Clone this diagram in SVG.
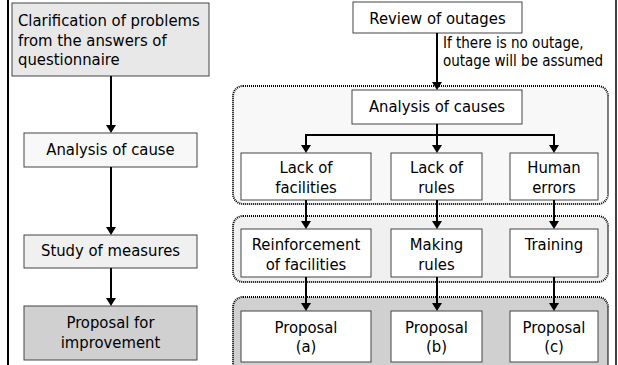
<svg xmlns="http://www.w3.org/2000/svg" width="618" height="365" viewBox="0 0 618 365">
<style>
text{font-family:"DejaVu Sans Condensed","DejaVu Sans",sans-serif;font-stretch:condensed;font-size:16.5px;fill:#000}
.c{text-anchor:middle}
.note{font-size:15px}
.box{stroke:#444;stroke-width:1}
.grp{stroke:#000;stroke-width:2;stroke-dasharray:1 1}
.ar{stroke:#000;stroke-width:2;fill:none;marker-end:url(#ah)}
.ln{stroke:#000;stroke-width:2;fill:none}
</style>
<defs>
<marker id="ah" markerUnits="userSpaceOnUse" markerWidth="9" markerHeight="10" refX="2" refY="5" orient="auto">
<path d="M0,0 L8,5 L0,10 z" fill="#000"/>
</marker>
</defs>
<rect width="618" height="365" fill="#fff"/>
<line x1="8" y1="0" x2="8" y2="365" stroke="#000" stroke-width="2"/>
<line x1="616" y1="0" x2="616" y2="365" stroke="#000" stroke-width="1.5"/>

<g id="group-causes"><rect class="grp" x="233" y="86" width="375" height="118" rx="10" fill="#f8f8f8"/></g>
<g id="group-measures"><rect class="grp" x="233" y="216" width="375" height="66" rx="10" fill="#f0f0f0"/></g>
<g id="group-proposals"><rect class="grp" x="233" y="297" width="375" height="80" rx="10" fill="#d0d0d0"/></g>

<g id="clarification"><rect class="box" x="12" y="3" width="197" height="73" fill="#e8e8e8"/>
<text x="18" y="26">Clarification of problems</text>
<text x="18" y="46">from the answers of</text>
<text x="18" y="65">questionnaire</text></g>

<g id="analysis-of-cause"><rect class="box" x="24" y="133" width="173" height="34" fill="#f8f8f8"/>
<text class="c" x="110.5" y="155">Analysis of cause</text></g>

<g id="study-of-measures"><rect class="box" x="24" y="235" width="173" height="33" fill="#f0f0f0"/>
<text class="c" x="110.5" y="256">Study of measures</text></g>

<g id="proposal-for-improvement"><rect class="box" x="24" y="306" width="173" height="54" fill="#d0d0d0"/>
<text class="c" x="110.5" y="328">Proposal for</text>
<text class="c" x="110.5" y="348">improvement</text></g>

<g id="review-of-outages"><rect class="box" x="353" y="2" width="169" height="31" fill="#fff"/>
<text class="c" x="437.5" y="24">Review of outages</text></g>

<g id="outage-note"><text class="note" x="443" y="48">If there is no outage,</text>
<text class="note" x="443" y="66">outage will be assumed</text></g>

<g id="analysis-of-causes"><rect class="box" x="352" y="90" width="170" height="34" fill="#fff"/>
<text class="c" x="437" y="112">Analysis of causes</text></g>

<g id="lack-of-facilities"><rect class="box" x="241" y="153" width="130" height="47" fill="#fff"/>
<text class="c" x="306" y="173">Lack of</text>
<text class="c" x="306" y="193">facilities</text></g>

<g id="lack-of-rules"><rect class="box" x="391" y="153" width="91" height="47" fill="#fff"/>
<text class="c" x="436.5" y="173">Lack of</text>
<text class="c" x="436.5" y="193">rules</text></g>

<g id="human-errors"><rect class="box" x="510" y="153" width="88" height="47" fill="#fff"/>
<text class="c" x="554" y="173">Human</text>
<text class="c" x="554" y="193">errors</text></g>

<g id="reinforcement"><rect class="box" x="241" y="229" width="130" height="48" fill="#fff"/>
<text class="c" x="306" y="250">Reinforcement</text>
<text class="c" x="306" y="270">of facilities</text></g>

<g id="making-rules"><rect class="box" x="391" y="229" width="91" height="48" fill="#fff"/>
<text class="c" x="436.5" y="250">Making</text>
<text class="c" x="436.5" y="270">rules</text></g>

<g id="training"><rect class="box" x="510" y="229" width="88" height="48" fill="#fff"/>
<text class="c" x="554" y="250">Training</text></g>

<g id="proposal-a"><rect class="box" x="241" y="311" width="130" height="51" fill="#fff"/>
<text class="c" x="306" y="333">Proposal</text>
<text class="c" x="306" y="352">(a)</text></g>

<g id="proposal-b"><rect class="box" x="391" y="311" width="91" height="51" fill="#fff"/>
<text class="c" x="436.5" y="333">Proposal</text>
<text class="c" x="436.5" y="352">(b)</text></g>

<g id="proposal-c"><rect class="box" x="510" y="311" width="88" height="51" fill="#fff"/>
<text class="c" x="554" y="333">Proposal</text>
<text class="c" x="554" y="352">(c)</text></g>

<g id="connectors">
<line class="ar" x1="111" y1="76" x2="111" y2="127"/>
<line class="ar" x1="111" y1="167" x2="111" y2="229"/>
<line class="ar" x1="111" y1="268" x2="111" y2="300"/>
<line class="ar" x1="437" y1="33" x2="437" y2="84"/>
<line class="ln" x1="437" y1="124" x2="437" y2="135"/>
<line class="ln" x1="305" y1="135" x2="555" y2="135"/>
<line class="ar" x1="306" y1="135" x2="306" y2="147"/>
<line class="ar" x1="437" y1="135" x2="437" y2="147"/>
<line class="ar" x1="554" y1="135" x2="554" y2="147"/>
<line class="ar" x1="306" y1="200" x2="306" y2="223"/>
<line class="ar" x1="437" y1="200" x2="437" y2="223"/>
<line class="ar" x1="554" y1="200" x2="554" y2="223"/>
<line class="ar" x1="306" y1="277" x2="306" y2="305"/>
<line class="ar" x1="437" y1="277" x2="437" y2="305"/>
<line class="ar" x1="554" y1="277" x2="554" y2="305"/>
</g>
</svg>
